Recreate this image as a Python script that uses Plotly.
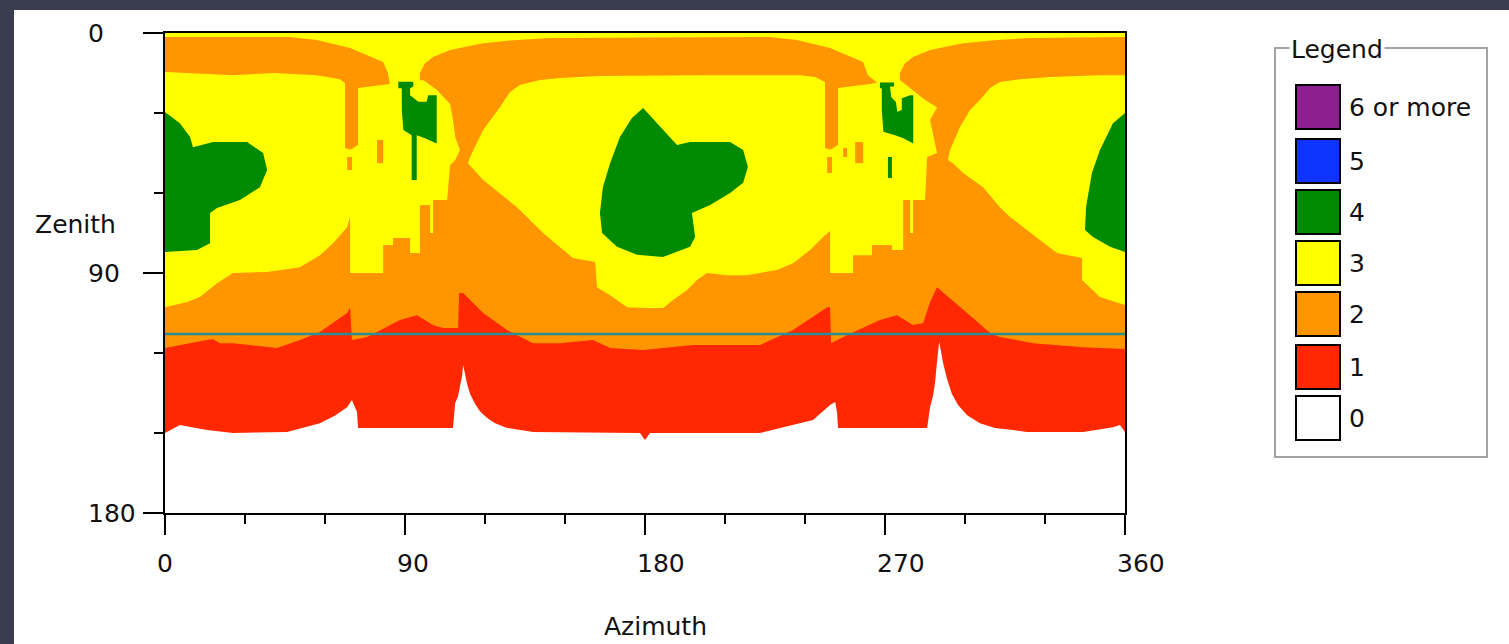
import plotly.graph_objects as go

# ---------------------------------------------------------------------------
# Coverage map data: every region is a list of (azimuth, zenith) vertices in
# degrees.  Regions are painted from the lowest count upwards.
# ---------------------------------------------------------------------------
LEVEL_LABELS = ["6 or more", "5", "4", "3", "2", "1", "0"]
LEVEL_COLORS = ["#8e1f8e", "#1034ff", "#008a00", "#ffff00", "#ff9600", "#ff2800", "#ffffff"]

X_TICKS = [0, 90, 180, 270, 360]
X_MINOR = [30, 60, 120, 150, 210, 240, 300, 330]
Y_TICKS = [0, 90, 180]
Y_MINOR = [30, 60, 120, 150]
HORIZON_ZENITH = 112.9

# lower edge of the count-1 area (below it the count is 0)
EDGE_1_0 = [
    (0, 150.0), (5.6, 147.0), (15.8, 148.9), (25.5, 150.0), (45.8, 149.6), (58.1, 146.3),
    (63.8, 143.4), (68.3, 140.3), (70.1, 137.6), (72.0, 142.1), (72.4, 148.1), (108.0, 148.1),
    (108.8, 138.8), (109.9, 136.1), (110.6, 133.1), (111.4, 128.6), (111.8, 124.5), (112.5, 127.9),
    (113.3, 131.6), (114.4, 135.4), (116.3, 139.1), (118.1, 141.8), (120.8, 144.4), (123.8, 146.3),
    (128.3, 148.1), (138.0, 149.6), (178.1, 150.0), (180.0, 152.6), (181.9, 150.0), (223.1, 150.0),
    (243.0, 145.1), (249.4, 139.5), (251.3, 138.4), (252.0, 142.1), (252.4, 148.1), (285.8, 148.1),
    (286.9, 140.3), (288.0, 136.1), (288.8, 130.9), (289.5, 123.4), (290.3, 115.9), (291.0, 119.3),
    (291.8, 123.8), (293.3, 129.8), (295.1, 135.4), (297.4, 139.5), (300.8, 143.3), (305.6, 146.3),
    (311.3, 148.1), (318.0, 148.9), (323.3, 149.6), (344.3, 149.6), (355.5, 147.8), (358.1, 147.0),
    (360, 149.6),
]

# lower edge of the count-2 area (below it the count is 1)
EDGE_2_1 = [
    (0, 118.1), (15.8, 115.1), (18.0, 114.8), (20.6, 116.3), (25.5, 116.3), (42.0, 118.1),
    (50.6, 115.1), (58.1, 112.1), (63.0, 108.8), (68.3, 105.0), (69.4, 102.8), (70.1, 115.1),
    (75.8, 114.0), (88.1, 107.6), (94.5, 105.8), (100.5, 109.5), (104.3, 110.6), (109.9, 110.6),
    (110.3, 97.5), (111.8, 97.5), (119.3, 105.0), (128.3, 111.4), (138.0, 116.3), (148.1, 116.3),
    (160.5, 115.1), (166.9, 118.1), (179.3, 118.9), (198.0, 117.0), (223.1, 117.0), (235.5, 111.4),
    (248.3, 102.8), (249.4, 102.8), (249.8, 116.3), (254.3, 114.0), (268.1, 107.6), (274.5, 105.8),
    (280.5, 109.5), (284.3, 108.8), (286.9, 100.9), (289.5, 95.3), (300.8, 105.0), (309.4, 112.5),
    (313.1, 114.0), (325.5, 116.3), (344.3, 117.8), (360, 118.5),
]

# count-3 areas
ZONE_3_TOP = [
    (0, 0), (360, 0), (360, 1.5), (324.4, 1.9), (312.0, 2.6), (299.3, 3.8), (286.9, 6.4),
    (280.5, 9.0), (277.5, 11.3), (275.6, 15.0), (275.6, 19.5), (268.1, 19.5), (263.6, 15.8),
    (261.8, 10.9), (255.8, 8.3), (249.4, 5.6), (237.0, 2.6), (226.9, 1.5), (144.4, 1.9),
    (132.0, 2.6), (119.3, 3.8), (106.9, 6.4), (100.5, 9.0), (97.5, 11.3), (95.6, 15.0),
    (95.6, 19.5), (84.4, 19.5), (83.6, 15.0), (81.8, 10.9), (75.8, 8.3), (69.4, 5.6),
    (57.0, 2.6), (46.9, 1.5), (0, 1.5),
]
ZONE_3_WEST = [
    (0, 14.6), (25.5, 15.8), (40.5, 15.0), (57.0, 15.8), (65.6, 17.3), (67.5, 18.8), (67.5, 43.1),
    (69.8, 43.9), (69.8, 67.5), (68.3, 72.8), (63.0, 78.8), (58.1, 83.3), (50.6, 87.8),
    (38.3, 89.6), (25.5, 90.0), (19.5, 93.8), (13.1, 99.0), (8.3, 100.9), (0, 102.8),
]
ZONE_3_NE = [
    (72.4, 20.6), (78.8, 19.9), (84.4, 19.1), (87.4, 18.4), (93.0, 18.4), (96.8, 17.6), (102.0, 21.4),
    (106.9, 26.6), (108.0, 32.6), (108.8, 39.0), (110.6, 43.9), (108.8, 47.6), (106.9, 49.5),
    (105.8, 62.6), (100.5, 62.6), (100.5, 75.0), (99.4, 75.0), (99.4, 64.5), (95.6, 64.5),
    (95.6, 82.5), (91.9, 82.5), (91.9, 76.9), (85.5, 76.9), (85.5, 79.5), (81.8, 79.5),
    (81.8, 90.0), (69.4, 90.0), (69.4, 43.9), (72.4, 42.0),
]
ZONE_3_SOUTH = [
    (113.6, 48.8), (114.4, 46.5), (119.3, 36.4), (125.6, 27.8), (129.4, 22.1), (133.1, 19.5),
    (140.6, 17.6), (148.1, 16.9), (163.1, 16.1), (200.6, 15.8), (238.1, 15.8), (243.8, 16.5),
    (247.5, 18.4), (247.5, 43.1), (249.8, 43.9), (249.8, 73.9), (246.8, 76.5), (241.9, 81.4),
    (235.5, 86.3), (229.5, 88.9), (218.3, 90.8), (210.8, 90.8), (203.3, 90.0), (199.5, 92.6),
    (195.8, 96.4), (190.5, 100.1), (186.8, 103.1), (180.8, 103.1), (173.3, 102.8), (166.9, 98.3),
    (162.0, 95.3), (161.3, 85.9), (153.0, 84.4), (150.8, 82.5), (141.8, 75.0), (132.0, 65.3),
    (119.3, 55.1),
]
ZONE_3_SW = [
    (252.4, 20.6), (258.8, 19.9), (264.4, 19.1), (268.1, 18.4), (273.4, 18.4), (275.6, 17.6),
    (280.5, 21.4), (285.0, 25.1), (289.5, 27.8), (286.9, 32.6), (289.5, 45.0), (285.8, 46.5),
    (285.0, 62.6), (280.5, 62.6), (280.5, 75.0), (279.4, 75.0), (279.4, 62.6), (276.8, 62.6),
    (276.8, 81.4), (272.6, 81.4), (272.6, 79.5), (265.1, 79.5), (265.1, 83.3), (258.0, 83.3),
    (258.0, 90.0), (249.4, 90.0), (249.4, 43.9), (252.4, 42.0),
]
ZONE_3_EAST = [
    (293.6, 47.6), (294.4, 43.9), (298.1, 35.3), (301.9, 28.9), (305.6, 25.1), (309.4, 20.6),
    (313.1, 18.4), (320.6, 17.3), (331.9, 16.5), (350.6, 15.8), (360, 15.8), (360, 102.0),
    (350.6, 99.0), (343.9, 92.6), (343.9, 84.4), (334.5, 82.5), (328.1, 77.6), (316.9, 69.0),
    (313.1, 65.3), (306.8, 57.8), (299.3, 52.5), (295.5, 48.8),
]

# small count-2 pockets inside the count-3 areas
POCKETS_2 = [
    [(79.5, 40.1), (81.8, 40.1), (81.8, 48.8), (79.5, 48.8)],
    [(68.3, 46.5), (70.1, 46.5), (70.1, 51.4), (68.3, 51.4)],
    [(258.8, 40.9), (261.8, 40.9), (261.8, 48.8), (258.8, 48.8)],
    [(254.3, 43.1), (255.8, 43.1), (255.8, 46.5), (254.3, 46.5)],
    [(248.3, 46.5), (250.1, 46.5), (250.1, 52.5), (248.3, 52.5)],
]

# count-4 areas
ZONE_4_WEST = [
    (0, 29.6), (5.6, 33.8), (9.4, 39.0), (10.5, 42.8), (18.0, 40.9), (30.8, 40.9), (36.8, 45.0),
    (38.3, 51.4), (35.6, 57.8), (28.1, 62.6), (19.5, 65.6), (16.9, 67.5), (16.9, 78.8),
    (12.0, 81.4), (0, 82.1),
]
ZONE_4_NE = [
    (87.5, 18.3), (93.1, 18.3), (93.1, 20.1), (91.9, 20.7), (91.9, 23.3), (95.0, 25.8), (98.1, 25.8),
    (98.7, 23.3), (101.9, 23.3), (101.9, 41.4), (97.5, 39.5), (94.4, 38.3), (94.4, 55.1),
    (92.5, 55.1), (92.5, 38.3), (89.4, 36.4), (88.8, 28.9), (88.8, 20.7), (87.5, 20.7),
]
ZONE_4_SOUTH = [
    (179.3, 28.1), (186.7, 36.4), (192.0, 42.0), (196.9, 40.9), (211.9, 40.9), (216.8, 43.9),
    (218.6, 50.2), (216.8, 56.2), (211.9, 60.0), (204.4, 64.5), (198.0, 67.1), (197.6, 67.5),
    (198.8, 76.5), (196.9, 80.2), (186.7, 84.0), (177.0, 83.2), (169.5, 80.2), (163.9, 75.0),
    (163.1, 67.5), (164.2, 57.8), (166.9, 48.8), (170.6, 39.0), (175.1, 31.9),
]
ZONE_4_SW = [
    (268.1, 18.6), (273.4, 18.6), (273.4, 20.1), (271.9, 20.1), (272.3, 24.0), (274.1, 25.9),
    (274.6, 29.5), (276.3, 28.9), (276.3, 24.5), (279.4, 23.3), (280.6, 23.3), (280.6, 41.4),
    (276.9, 39.5), (273.8, 38.3), (269.4, 37.0), (268.8, 28.9), (268.8, 20.7), (268.1, 20.7),
]
ZONE_4_SW_STREAK = [(271.1, 46.5), (272.6, 46.5), (272.6, 54.4), (271.1, 54.4)]
ZONE_4_EAST = [
    (360, 30.0), (355.5, 33.8), (350.6, 43.9), (347.6, 52.5), (345.4, 65.2), (345.0, 73.9),
    (348.0, 76.5), (354.4, 80.2), (360, 82.1),
]

# ---------------------------------------------------------------------------
# Figure geometry (pixels) and helpers to place legend items in paper space
# ---------------------------------------------------------------------------
W, H = 1509, 644
PL, PR, PT, PB = 165, 1125, 33, 513
FONT = "DejaVu Sans, Verdana, sans-serif"
TEXT = "#111111"


def paper_x(xp):
    return (xp - PL) / (PR - PL)


def paper_y(yp):
    return (PB - yp) / (PB - PT)


color = dict(zip(LEVEL_LABELS, LEVEL_COLORS))
fig = go.Figure()


def region(points, fill):
    xs = [p[0] for p in points] + [points[0][0]]
    ys = [p[1] for p in points] + [points[0][1]]
    fig.add_trace(go.Scatter(
        x=xs, y=ys, mode="lines", fill="toself", fillcolor=fill,
        line=dict(width=0, color=fill), hoverinfo="skip", showlegend=False,
    ))


region([(0, 0)] + EDGE_1_0 + [(360, 0)], color["1"])
region([(0, 0)] + EDGE_2_1 + [(360, 0)], color["2"])
for zone in (ZONE_3_TOP, ZONE_3_WEST, ZONE_3_NE, ZONE_3_SOUTH, ZONE_3_SW, ZONE_3_EAST):
    region(zone, color["3"])
for pocket in POCKETS_2:
    region(pocket, color["2"])
for zone in (ZONE_4_WEST, ZONE_4_NE, ZONE_4_SOUTH, ZONE_4_SW, ZONE_4_SW_STREAK, ZONE_4_EAST):
    region(zone, color["4"])

# horizon line
fig.add_trace(go.Scatter(
    x=[0, 360], y=[HORIZON_ZENITH, HORIZON_ZENITH], mode="lines",
    line=dict(color="#2b8d95", width=2.5), hoverinfo="skip", showlegend=False,
))

axis_common = dict(
    showgrid=False, zeroline=False, showline=True, linecolor="black", linewidth=2,
    mirror=True, ticks="outside", ticklen=20, tickwidth=2, tickcolor="black",
    showticklabels=False,
)
fig.update_xaxes(range=[0, 360], tickvals=X_TICKS,
                 minor=dict(tickvals=X_MINOR, ticks="outside", ticklen=9, tickwidth=2,
                            tickcolor="black", showgrid=False),
                 **axis_common)
fig.update_yaxes(range=[180, 0], tickvals=Y_TICKS,
                 minor=dict(tickvals=Y_MINOR, ticks="outside", ticklen=9, tickwidth=2,
                            tickcolor="black", showgrid=False),
                 **axis_common)

annotations = []
for v in X_TICKS:
    annotations.append(dict(x=v, xref="x", y=paper_y(563), yref="paper", text=str(v),
                            showarrow=False, xanchor="left", yanchor="middle", xshift=-10))
for v in Y_TICKS:
    annotations.append(dict(x=paper_x(86), xref="paper", y=v, yref="y", text=str(v),
                            showarrow=False, xanchor="left", yanchor="middle"))
annotations.append(dict(x=paper_x(33), xref="paper", y=paper_y(224), yref="paper",
                        text="Zenith", showarrow=False, xanchor="left", yanchor="middle"))
annotations.append(dict(x=paper_x(655), xref="paper", y=paper_y(626), yref="paper",
                        text="Azimuth", showarrow=False, xanchor="center", yanchor="middle"))

shapes = [
    # white panel
    dict(type="rect", xref="paper", yref="paper", x0=paper_x(14), x1=paper_x(W + 5),
         y0=paper_y(H + 5), y1=paper_y(10), fillcolor="white", line=dict(width=0), layer="below"),
    # legend frame
    dict(type="rect", xref="paper", yref="paper", x0=paper_x(1275), x1=paper_x(1487),
         y0=paper_y(457), y1=paper_y(48), line=dict(color="#a3a3a3", width=2)),
]
annotations.append(dict(x=paper_x(1289), xref="paper", y=paper_y(50), yref="paper",
                        text="Legend", showarrow=False, xanchor="left", yanchor="middle",
                        bgcolor="white", borderpad=1))

SWATCH_TOPS = [85, 139, 190, 241, 292, 345, 396]
for label, fill, top in zip(LEVEL_LABELS, LEVEL_COLORS, SWATCH_TOPS):
    shapes.append(dict(type="rect", xref="paper", yref="paper", x0=paper_x(1296), x1=paper_x(1340),
                       y0=paper_y(top + 44), y1=paper_y(top), fillcolor=fill,
                       line=dict(color="black", width=2)))
    annotations.append(dict(x=paper_x(1347), xref="paper", y=paper_y(top + 22), yref="paper",
                            text=label, showarrow=False, xanchor="left", yanchor="middle"))

fig.update_layout(
    width=W, height=H,
    margin=dict(l=PL, r=W - PR, t=PT, b=H - PB, pad=0),
    paper_bgcolor="#3a3c50", plot_bgcolor="white",
    font=dict(family=FONT, size=25, color=TEXT),
    shapes=shapes, annotations=annotations, showlegend=False,
)

fig.write_html("out.html")
